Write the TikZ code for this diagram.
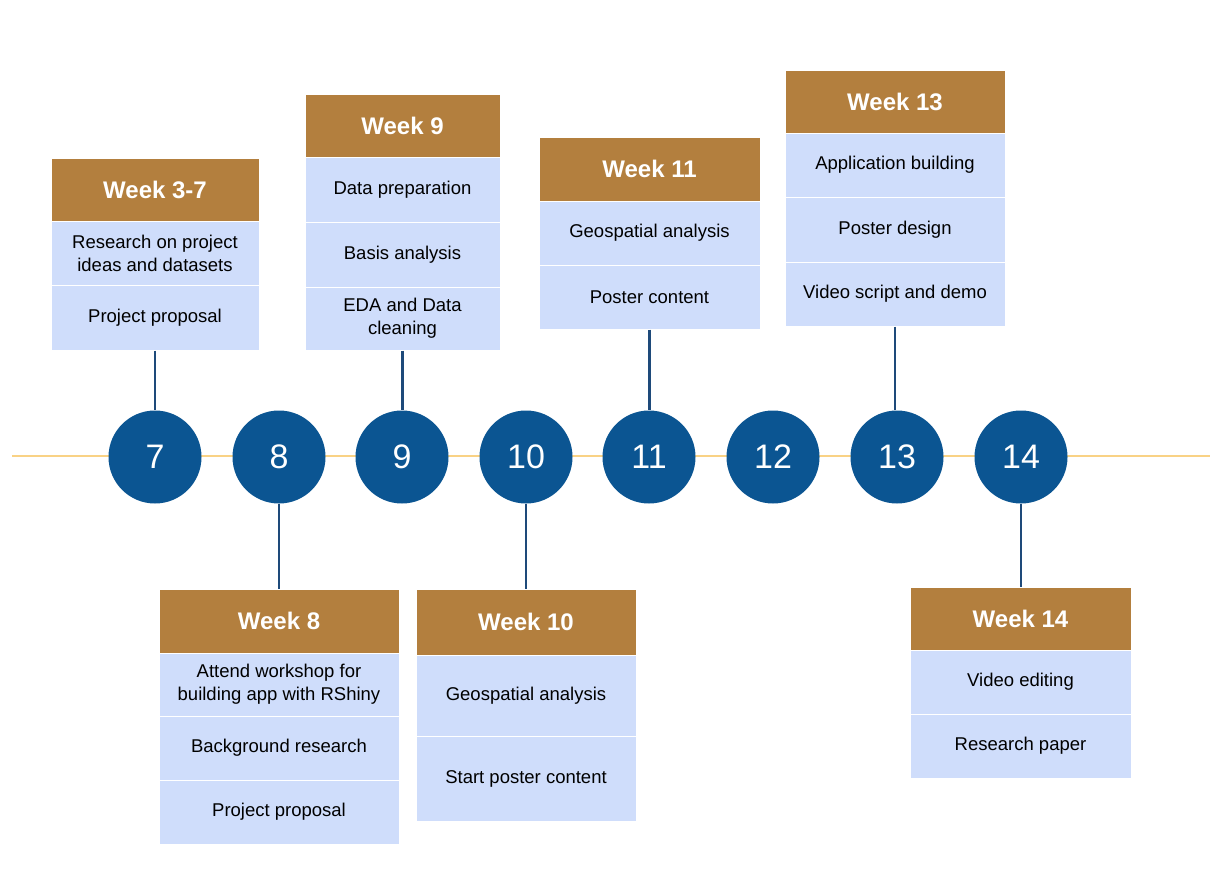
\documentclass[tikz,border=0pt]{standalone}
\usepackage{fontspec}
\setmainfont{Liberation Sans}
\definecolor{hdr}{HTML}{B37F3E}
\definecolor{rowc}{HTML}{CFDDFB}
\definecolor{circc}{HTML}{0B5592}
\definecolor{conn}{HTML}{1E4A7A}
\definecolor{tline}{HTML}{F9D285}
\begin{document}
\begin{tikzpicture}[x=1pt,y=-1pt,
  hbox/.style={fill=hdr, draw=white, line width=1pt, inner sep=0pt, align=center, text=white, font=\fontsize{24}{28}\selectfont\bfseries},
  rbox/.style={fill=rowc, draw=white, line width=1pt, inner sep=0pt, align=center, text=black, font=\fontsize{18.5}{23}\selectfont},
  circ/.style={circle, fill=circc, minimum size=93pt, inner sep=0pt, text=white, font=\fontsize{34}{36}\selectfont},
  link/.style={draw=conn, line width=2.6pt},
  axis/.style={draw=tline, line width=2.8pt}]
\useasboundingbox (0,0) rectangle (1230,878);
\coordinate (tl) at (12,456);
\coordinate (tr) at (1210,456);
\draw[axis] (tl) -- (tr);

% Week 3-7
\node[hbox, minimum width=208pt, minimum height=63pt] (h37) at (155,189.5) {Week 3-7};
\node[rbox, minimum width=208pt, minimum height=64pt] (a1) at (155,253) {Research on project\\ideas and datasets};
\node[rbox, minimum width=208pt, minimum height=65pt] (a2) at (155,317.5) {Project proposal};

% Week 9
\node[hbox, minimum width=195pt, minimum height=63pt] (h9) at (402.5,125.5) {Week 9};
\node[rbox, minimum width=195pt, minimum height=65pt] (b1) at (402.5,189.5) {Data preparation};
\node[rbox, minimum width=195pt, minimum height=65pt] (b2) at (402.5,254.5) {Basis analysis};
\node[rbox, minimum width=195pt, minimum height=63pt] (b3) at (402.5,318.5) {EDA and Data\\cleaning};

% Week 11
\node[hbox, minimum width=221pt, minimum height=64pt] (h11) at (649.5,169) {Week 11};
\node[rbox, minimum width=221pt, minimum height=64pt] (d1) at (649.5,233) {Geospatial analysis};
\node[rbox, minimum width=221pt, minimum height=64pt] (d2) at (649.5,297) {Poster content};

% Week 13
\node[hbox, minimum width=220pt, minimum height=63pt] (h13) at (895,101.5) {Week 13};
\node[rbox, minimum width=220pt, minimum height=64pt] (f1) at (895,165) {Application building};
\node[rbox, minimum width=220pt, minimum height=65pt] (f2) at (895,229.5) {Poster design};
\node[rbox, minimum width=220pt, minimum height=64pt] (f3) at (895,294) {Video script and demo};

% Week 8
\node[hbox, minimum width=240pt, minimum height=64pt] (h8) at (279,621) {Week 8};
\node[rbox, minimum width=240pt, minimum height=63pt] (c1) at (279,684.5) {Attend workshop for\\building app with RShiny};
\node[rbox, minimum width=240pt, minimum height=64pt] (c2) at (279,748) {Background research};
\node[rbox, minimum width=240pt, minimum height=64pt] (c3) at (279,812) {Project proposal};

% Week 10
\node[hbox, minimum width=220pt, minimum height=66pt] (h10) at (526,622) {Week 10};
\node[rbox, minimum width=220pt, minimum height=81pt] (e1) at (526,695.5) {Geospatial analysis};
\node[rbox, minimum width=220pt, minimum height=85pt] (e2) at (526,778.5) {Start poster content};

% Week 14
\node[hbox, minimum width=221pt, minimum height=63pt] (h14) at (1020.5,618.5) {Week 14};
\node[rbox, minimum width=221pt, minimum height=64pt] (g1) at (1020.5,682) {Video editing};
\node[rbox, minimum width=221pt, minimum height=64pt] (g2) at (1020.5,746) {Research paper};

% Circles
\node[circ] (c7) at (155,457) {7};
\node[circ] (c8) at (279,457) {8};
\node[circ] (c9) at (402,457) {9};
\node[circ] (c10) at (526,457) {10};
\node[circ] (c11) at (649,457) {11};
\node[circ] (c12) at (773,457) {12};
\node[circ] (c13) at (897,457) {13};
\node[circ] (c14) at (1021,457) {14};

% Connectors
\draw[link] (a2.south) -- (a2.south |- c7.north);
\draw[link] (b3.south) -- (b3.south |- c9.north);
\draw[link] (d2.south) -- (d2.south |- c11.north);
\draw[link] (f3.south) -- (f3.south |- c13.north);
\draw[link] (c8.south) -- (c8.south |- h8.north);
\draw[link] (c10.south) -- (c10.south |- h10.north);
\draw[link] (c14.south) -- (c14.south |- h14.north);
\end{tikzpicture}
\end{document}
